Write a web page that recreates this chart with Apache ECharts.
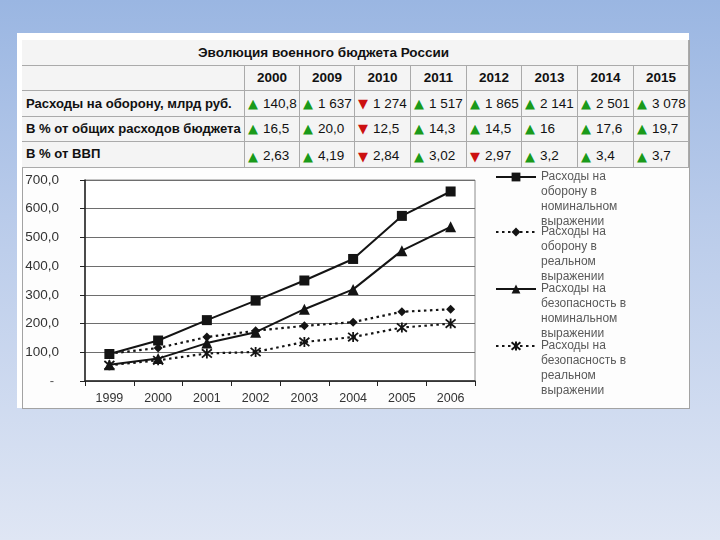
<!DOCTYPE html>
<html>
<head>
<meta charset="utf-8">
<script src="https://cdn.jsdelivr.net/npm/echarts@6/dist/echarts.min.js"></script>
<style>
html,body{margin:0;padding:0;}
body{width:720px;height:540px;position:relative;overflow:hidden;
  background:linear-gradient(#9ab6e2 0%, #b9cbea 40%, #dfe6f4 100%);
  font-family:"Liberation Sans", Arial, sans-serif;}
#outer{position:absolute;left:17px;top:33px;width:672px;height:375px;background:#fff;}
#panel{position:absolute;left:22px;top:40px;width:666px;height:367px;background:#fdfdfd;border:1px solid #a3a3a3;}
.cell{position:absolute;box-sizing:border-box;background:#f4f4f4;border-right:1px solid #aaa;border-bottom:1px solid #aaa;
  color:#111;font-size:13.5px;line-height:1;display:flex;align-items:center;white-space:nowrap;}
.hdr{font-weight:bold;justify-content:center;}
.lbl{font-weight:bold;padding-left:4px;font-size:13.1px;}
.num{padding-left:3px;}
.up{color:#1a9a1a;font-family:"DejaVu Sans";font-size:13px;margin-right:5px;}
.down{color:#cc1010;font-family:"DejaVu Sans";font-size:13px;margin-right:5px;}
#chart{position:absolute;left:0;top:0;width:720px;height:540px;}
</style>
</head>
<body>
<div id="outer"></div>
<div id="panel"></div>
<div id="table"></div>
<div id="chart"></div>
<script>
// ---------- table data ----------
const tableTitle = 'Эволюция военного бюджета России';
const tableYears = ['2000','2009','2010','2011','2012','2013','2014','2015'];
const rowLabels = ['Расходы на оборону, млрд руб.','В % от общих расходов бюджета','В % от ВВП'];
const defenseSpend = ['140,8','1 637','1 274','1 517','1 865','2 141','2 501','3 078'];
const defenseTrend = ['up','up','down','up','up','up','up','up'];
const budgetShare = ['16,5','20,0','12,5','14,3','14,5','16','17,6','19,7'];
const budgetTrend = ['up','up','down','up','up','up','up','up'];
const gdpShare = ['2,63','4,19','2,84','3,02','2,97','3,2','3,4','3,7'];
const gdpTrend = ['up','up','down','up','down','up','up','up'];

// ---------- chart data ----------
const chartYears = ['1999','2000','2001','2002','2003','2004','2005','2006'];
const defenseNominal = [94, 141, 212, 280, 350, 425, 575, 660];
const defenseReal = [95, 115, 153, 175, 192, 205, 241, 250];
const securityNominal = [57, 78, 132, 170, 250, 319, 454, 537];
const securityReal = [55, 72, 96, 101, 136, 153, 186, 200];
const seriesNames = [
  'Расходы на оборону в номинальном выражении',
  'Расходы на оборону в реальном выражении',
  'Расходы на безопасность в номинальном выражении',
  'Расходы на безопасность в реальном выражении'
];
const legendLines = [
  ['Расходы на','оборону в','номинальном','выражении'],
  ['Расходы на','оборону в','реальном','выражении'],
  ['Расходы на','безопасность в','номинальном','выражении'],
  ['Расходы на','безопасность в','реальном','выражении']
];

// ---------- build table ----------
const T = document.getElementById('table');
const colX = [22,245,300,355,411,467,522,578,634,689];
const rowY = [40,66,91,116.5,142,168];
function cell(x,y,w,h,cls,html){
  const d=document.createElement('div');
  d.className='cell '+cls;
  d.style.left=x+'px';d.style.top=y+'px';d.style.width=w+'px';d.style.height=h+'px';
  d.innerHTML=html;T.appendChild(d);return d;
}
// title row
const tc = cell(22,40,667,26,'hdr','');
tc.style.justifyContent='flex-start';
const ts=document.createElement('span');ts.textContent=tableTitle;ts.style.position='absolute';ts.style.left='176px';tc.appendChild(ts);
// header row
cell(22,66,223,25,'', '');
tableYears.forEach((y,i)=>cell(colX[i+1],66,colX[i+2]-colX[i+1],25,'hdr',y));
const rows=[[defenseSpend,defenseTrend],[budgetShare,budgetTrend],[gdpShare,gdpTrend]];
rows.forEach((r,ri)=>{
  const y0=rowY[ri+2], h=rowY[ri+3]-y0;
  const lc=cell(22,y0,223,h,'lbl',rowLabels[ri]);
  if(ri===2){lc.style.alignItems='flex-start';lc.style.paddingTop='5px';}
  r[0].forEach((v,i)=>{
    const tri = r[1][i]==='up' ? '<span class="up">▲</span>' : '<span class="down">▼</span>';
    const c=cell(colX[i+1],y0,colX[i+2]-colX[i+1],h,'num',tri+'<span>'+v+'</span>');
    if(ri===2){c.style.paddingTop='3px';}
  });
});

// ---------- chart ----------
const chart = echarts.init(document.getElementById('chart'));
const FF = '"Liberation Sans", Arial, sans-serif';
const lineCol = '#141414';
const asterisk = 'path://M0,0L10,10M10,0L0,10M5,-1L5,11';
const legendCenters = [177, 232, 289, 346];
function mkLegend(i){
  return {
    data:[seriesNames[i]], left:495, top:legendCenters[i]-52.5, padding:0, itemGap:0,
    itemWidth:40, itemHeight:11, selectedMode:false,
    formatter: ()=>['','',''].concat(legendLines[i]).join('\n'),
    textStyle:{color:'#5a5a5a', fontSize:12, lineHeight:15, fontFamily:FF}
  };
}
chart.setOption({
  animation:false,
  textStyle:{fontFamily:FF},
  grid:{left:85, top:180, width:390, height:201, show:true, borderColor:'#8c8c8c', borderWidth:1, backgroundColor:'#ffffff'},
  legend:[mkLegend(0),mkLegend(1),mkLegend(2),mkLegend(3)],
  xAxis:{type:'category', data:chartYears, boundaryGap:true,
    axisLine:{lineStyle:{color:'#222', width:1.5}},
    axisTick:{show:true, length:5, lineStyle:{color:'#222'}},
    axisLabel:{color:'#333', fontSize:12.5, margin:11, fontFamily:FF}},
  yAxis:{type:'value', min:0, max:700, interval:100,
    axisLine:{show:true, lineStyle:{color:'#222', width:1.5}},
    axisTick:{show:true, length:5, lineStyle:{color:'#222'}},
    splitLine:{lineStyle:{color:'#6e6e6e', width:1}},
    axisLabel:{color:'#333', fontSize:13.5, margin:26, fontFamily:FF,
      formatter:v=> v===0 ? '{d|-}' : v.toFixed(1).replace('.',','),
      rich:{d:{fontSize:13, color:'#555', padding:[0,5,0,0]}}}},
  series:[
    {name:seriesNames[0], type:'line', data:defenseNominal, symbol:'rect', symbolSize:10,
      itemStyle:{color:lineCol}, lineStyle:{color:lineCol, width:2}},
    {name:seriesNames[1], type:'line', data:defenseReal, symbol:'diamond', symbolSize:9,
      itemStyle:{color:lineCol}, lineStyle:{color:lineCol, width:2.2, type:[2.5,3.5]}},
    {name:seriesNames[2], type:'line', data:securityNominal, symbol:'triangle', symbolSize:11,
      itemStyle:{color:lineCol}, lineStyle:{color:lineCol, width:2}},
    {name:seriesNames[3], type:'line', data:securityReal, symbol:asterisk, symbolSize:10,
      itemStyle:{color:lineCol, borderColor:lineCol, borderWidth:1.8}, lineStyle:{color:lineCol, width:2.2, type:[2.5,3.5]}}
  ]
});
</script>
</body>
</html>
